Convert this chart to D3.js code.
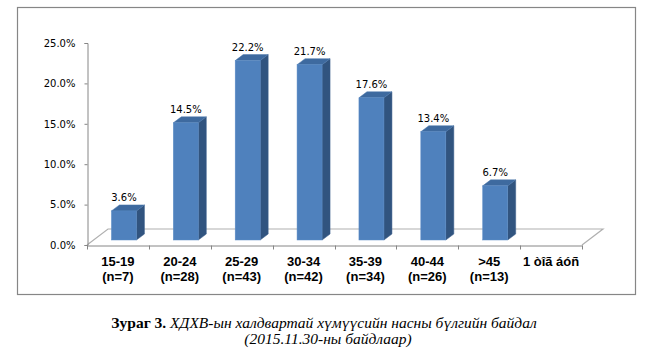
<!DOCTYPE html>
<html><head><meta charset="utf-8">
<script src="https://cdn.jsdelivr.net/npm/d3@7"></script>
<style>body{margin:0;background:#fff;}svg{display:block;}</style>
</head><body>
<svg id="c" width="653" height="359"></svg>
<script>
const categories = ["15-19", "20-24", "25-29", "30-34", "35-39", "40-44", ">45", "1 òîã áóñ"];
const subLabels = ["(n=7)", "(n=28)", "(n=43)", "(n=42)", "(n=34)", "(n=26)", "(n=13)", ""];
const values = [3.6, 14.5, 22.2, 21.7, 17.6, 13.4, 6.7, null];
const yTicks = [0, 5, 10, 15, 20, 25];
const captionBold = "Зураг 3. ";
const captionItalic = "ХДХВ-ын халдвартай хүмүүсийн насны бүлгийн байдал";
const captionLine2 = "(2015.11.30-ны байдлаар)";

const svg = d3.select("#c");
// frame
svg.append("rect").attr("x", 17.5).attr("y", 7.5).attr("width", 618).attr("height", 287)
  .attr("fill", "#fff").attr("stroke", "#868686").attr("stroke-width", 1.2);

const x = d3.scaleBand().domain(categories).range([87, 582]).padding(0);
const y = d3.scaleLinear().domain([0, 25]).range([245, 43]);

const floorD = [21, -16];
const barOff = [6, -5];
const barD = [8, -6];
const barW = 25;

// floor
const g = svg.append("g");
const fx0 = 87, fx1 = 582, fy = y(0);
g.append("path")
  .attr("d", `M${fx0},${fy}L${fx0 + floorD[0]},${fy + floorD[1]}L${fx1 + floorD[0]},${fy + floorD[1]}L${fx1},${fy}`)
  .attr("fill", "none").attr("stroke", "#b0b0b0").attr("stroke-width", 1.2);

// y axis
const yAxis = d3.axisLeft(y).tickValues(yTicks).tickSize(3).tickFormat(d => d.toFixed(1) + "%");
const ya = svg.append("g").attr("transform", "translate(87.5,0)").call(yAxis);
ya.select(".domain").attr("stroke", "#868686");
ya.selectAll(".tick line").attr("stroke", "#868686");
ya.selectAll(".tick text").attr("font-family", "DejaVu Sans, Verdana, sans-serif").attr("font-size", 10).attr("fill", "#000").attr("x", -12);

// x axis
const xAxis = d3.axisBottom(x).tickSize(0).tickFormat("");
const xa = svg.append("g").attr("transform", `translate(0,${fy + 0.5})`).call(xAxis);
xa.select(".domain").attr("stroke", "#868686");
const bounds = categories.map(c => x(c)).concat([582]);
xa.selectAll(".bt").data(bounds).enter().append("line").attr("class", "bt")
  .attr("x1", d => Math.round(d) + 0.5).attr("x2", d => Math.round(d) + 0.5)
  .attr("y1", 0).attr("y2", 4).attr("stroke", "#868686");

// category labels
const lab = svg.append("g").attr("font-family", "Liberation Sans, Arial, sans-serif")
  .attr("font-weight", "bold").attr("font-size", 13).attr("text-anchor", "middle").attr("fill", "#000");
categories.forEach((c, i) => {
  const cx = x(c) + x.bandwidth() / 2;
  lab.append("text").attr("x", cx).attr("y", 266).text(c);
  if (subLabels[i]) lab.append("text").attr("x", cx).attr("y", 281).text(subLabels[i]);
});

// bars
const bars = svg.append("g");
categories.forEach((c, i) => {
  const v = values[i];
  if (v == null) return;
  const x0 = x(c) + x.bandwidth() / 2 - barW / 2 + barOff[0];
  const x1 = x0 + barW;
  const yb = y(0) + barOff[1];
  const yt = y(v) + barOff[1];
  const [dx, dy] = barD;
  bars.append("path").attr("d", `M${x1},${yb}L${x1 + dx},${yb + dy}L${x1 + dx},${yt + dy}L${x1},${yt}Z`)
    .attr("fill", "#31547f").attr("stroke", "#3a5f8c").attr("stroke-width", 0.5);
  bars.append("path").attr("d", `M${x0},${yt}L${x0 + dx},${yt + dy}L${x1 + dx},${yt + dy}L${x1},${yt}Z`)
    .attr("fill", "#3e6a9f").attr("stroke", "#4a76aa").attr("stroke-width", 0.5);
  bars.append("rect").attr("x", x0).attr("y", yt).attr("width", barW).attr("height", yb - yt)
    .attr("fill", "#4f81bd").attr("stroke", "#5b8cc6").attr("stroke-width", 0.5);
  bars.append("text").attr("x", x0 + barW / 2).attr("y", yt - 9.5)
    .attr("text-anchor", "middle").attr("font-family", "DejaVu Sans, Verdana, sans-serif")
    .attr("font-size", 10).attr("fill", "#000").text(v.toFixed(1) + "%");
});

// caption
const cap = svg.append("text").attr("x", 324).attr("y", 328).attr("text-anchor", "middle")
  .attr("font-family", "Liberation Serif, Times New Roman, serif").attr("font-size", 15.5).attr("fill", "#000");
cap.append("tspan").attr("font-weight", "bold").text(captionBold);
cap.append("tspan").attr("font-style", "italic").text(captionItalic);
svg.append("text").attr("x", 328).attr("y", 344).attr("text-anchor", "middle")
  .attr("font-family", "Liberation Serif, Times New Roman, serif").attr("font-size", 15.5)
  .attr("font-style", "italic").attr("fill", "#000").text(captionLine2);
</script>
</body></html>
